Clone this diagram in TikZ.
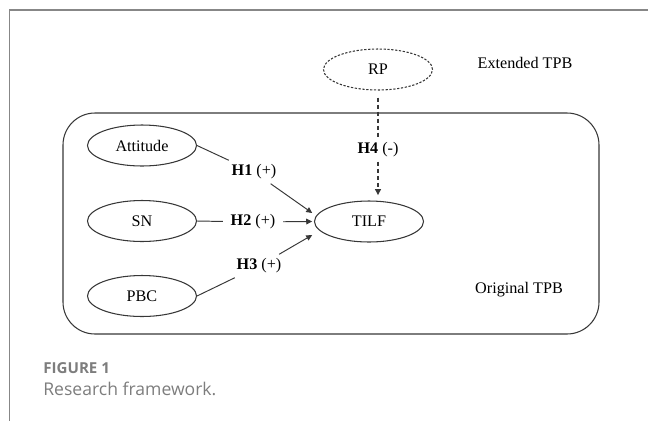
\documentclass[tikz,border=0pt]{standalone}
\usepackage{fontspec}
\setmainfont{Liberation Serif}
\newfontfamily\captionfont{Open Sans}
\usetikzlibrary{arrows.meta,shapes.geometric}

\definecolor{framegray}{RGB}{135,135,135}
\definecolor{captiongray}{RGB}{125,125,125}
\definecolor{linegray}{RGB}{55,55,55}

\tikzset{
    construct/.style={ellipse, draw=linegray, line width=0.6pt,
        minimum width=2.18cm, minimum height=0.82cm, inner sep=0pt,
        font=\fontsize{9.2}{11}\selectfont},
    hypo/.style={fill=white, inner xsep=4.5pt, inner ysep=2.5pt, outer sep=0pt,
        font=\fontsize{9.2}{11}\selectfont},
    link/.style={linegray, line width=0.55pt},
    linkarrow/.style={link, -{Triangle[length=3.4pt,width=3.2pt]}},
}

\begin{document}
\begin{tikzpicture}

    \useasboundingbox (0,0) rectangle (12.96,-8.42);

    % page frame
    \draw[framegray, line width=0.8pt] (12.96,-0.2) -- (0.19,-0.2) -- (0.19,-8.42);

    % the two model blocks
    \draw[linegray, line width=0.6pt, rounded corners=0.64cm] (1.26,-2.26) rectangle (11.98,-6.68);
    \node[font=\fontsize{9.2}{11}\selectfont, anchor=base] (ext) at (10.5,-1.36) {Extended TPB};
    \node[font=\fontsize{9.2}{11}\selectfont, anchor=base] (orig) at (10.38,-5.86) {Original TPB};

    \node[construct] (att) at (2.84,-2.91) {Attitude};
    \node[construct] (sn) at (2.84,-4.42) {SN};
    \node[construct] (pbc) at (2.84,-5.92) {PBC};
    \node[construct] (tilf) at (7.38,-4.43) {TILF};
    \node[construct, dash pattern=on 1.3pt off 0.9pt] (rp) at (7.56,-1.39) {RP};

    \node[hypo] (h1) at (5.08,-3.44) {\textbf{H1} (+)};
    \node[hypo] (h2) at (5.06,-4.44) {\textbf{H2} (+)};
    \node[hypo] (h3) at (5.18,-5.32) {\textbf{H3} (+)};
    \node[hypo] (h4) at (7.56,-3.0) {\textbf{H4} (-)};

    \draw[link] (att.east) -- (h1);
    \draw[linkarrow] (h1) -- ([xshift=-1pt,yshift=0.17cm]tilf.west);

    \draw[link] (sn.east) -- (h2);
    \draw[linkarrow] (h2) -- ([xshift=-1pt]tilf.west);

    \draw[link] (pbc.east) -- (h3);
    \draw[linkarrow] (h3) -- ([xshift=-1pt,yshift=-0.27cm]tilf.west);

    % extension: risk perception
    \draw[link, line width=0.9pt, dash pattern=on 2.4pt off 1.6pt, shorten <=4pt]
        (rp.south) -- (rp.south |- h4.north);
    \draw[linkarrow, line width=0.9pt, dash pattern=on 2.4pt off 1.6pt, shorten >=3pt]
        (rp.south |- h4.south) -- (rp.south |- tilf.north);

    % caption
    \node[anchor=base west, inner sep=0pt, text=captiongray,
          font=\captionfont\fontsize{8.6}{10}\selectfont\bfseries] (fig) at (0.86,-7.46) {FIGURE 1};
    \node[anchor=base west, inner sep=0pt, text=captiongray,
          font=\captionfont\fontsize{10}{12}\selectfont] (title) at (0.86,-7.9) {Research framework.};

\end{tikzpicture}
\end{document}
